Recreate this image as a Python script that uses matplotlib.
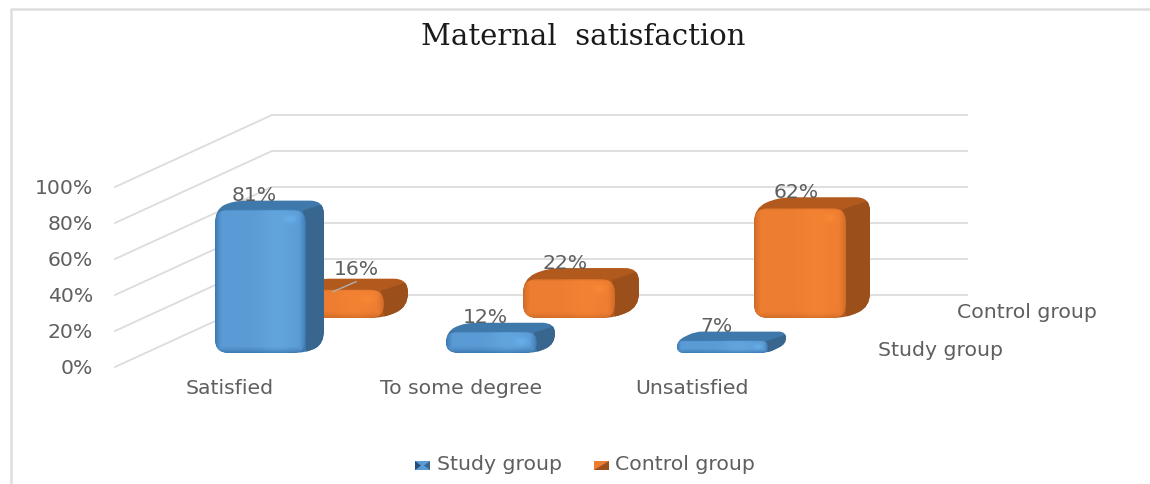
import numpy as np
import matplotlib
matplotlib.use('Agg')
from matplotlib import pyplot as plt
from matplotlib.patches import PathPatch, Polygon
from matplotlib.path import Path

categories = ['Satisfied', 'To some degree', 'Unsatisfied']
series_names = ['Study group', 'Control group']
study = [81, 12, 7]
control = [16, 22, 62]
y_ticks = [0, 20, 40, 60, 80, 100]

# layout of the fake 3d box, in pixels
FLOOR_Y = 367
AXIS_X = 115
WALL_DX = 157
WALL_DY = 72
WALL_END = 967
GRID_SCALE = 1.8
BAR_SCALE = 1.77
BAR_X0 = 215
BAR_Y0 = 353
CAT_STEP = 231
ROW_DX = 77
ROW_DY = 35
# per row: study, control
BAR_W = [91, 92]
DEPTH_DX = [18, 24]
DEPTH_DY = [9, 11]

BLUE = dict(base='#5b9bd5', edge='#3673ab', hi='#68aee5', top='#3f78aa', side='#39668f')
ORANGE = dict(base='#ed7d31', edge='#c96825', hi='#fb8634', top='#b25a1e', side='#9b4f1b')
TXT = '#5f5f5f'
GRID = '#dcdcdc'
LABEL_SIZE = 14.7


def rounded(points, r):
    # closed path with the corners cut by quadratic curves
    pts = np.array(points, dtype=float)
    n = len(pts)
    verts, codes = [], []
    for i in range(n):
        p, prev, nxt = pts[i], pts[i - 1], pts[(i + 1) % n]
        a = p + (prev - p) * min(r / np.linalg.norm(prev - p), 0.5)
        b = p + (nxt - p) * min(r / np.linalg.norm(nxt - p), 0.5)
        verts += [a, p, b]
        codes += [Path.MOVETO if i == 0 else Path.LINETO, Path.CURVE3, Path.CURVE3]
    verts.append(verts[0])
    codes.append(Path.CLOSEPOLY)
    return Path(verts, codes)


def rgb(c):
    return np.array(matplotlib.colors.to_rgb(c))


def front_image(w, h, col, bevel):
    xs = np.arange(int(w)) + 0.5
    ys = np.arange(int(h)) + 0.5
    xx, yy = np.meshgrid(xs, ys)
    # top edge stays lighter than the sides and the bottom
    dist = np.minimum.reduce([xx, w - xx, yy * 3, h - yy])
    t = np.clip(dist / bevel, 0, 1)[..., None] ** 0.7
    img = rgb(col['edge']) * (1 - t) + rgb(col['base']) * t
    # soft lighter band towards the right and a glint near the top corner
    band = np.exp(-((xx - w * 0.68) / (w * 0.18)) ** 2)[..., None] * t
    img = img * (1 - 0.5 * band) + rgb(col['hi']) * 0.5 * band
    glint = np.exp(-(((xx - (w - 2.2 * bevel)) / (0.9 * bevel)) ** 2 + ((yy - 1.4 * bevel) / (0.6 * bevel)) ** 2))[..., None]
    return img * (1 - 0.5 * glint) + (rgb(col['hi']) * 1.08).clip(0, 1) * 0.5 * glint


def draw_bar(ax, cat, row, value, col):
    left = BAR_X0 + cat * CAT_STEP + row * ROW_DX
    bottom = BAR_Y0 - row * ROW_DY
    h = value * BAR_SCALE
    top = bottom - h
    right = left + BAR_W[row]
    ddx, ddy = DEPTH_DX[row], DEPTH_DY[row]
    r = min(14, h * 0.6)

    # silhouette of the whole block, then the darker side
    outline = [(left, bottom), (left, top), (left + ddx, top - ddy),
               (right + ddx, top - ddy), (right + ddx, bottom - ddy), (right, bottom)]
    ax.add_patch(PathPatch(rounded(outline, r), fc=col['top'], ec='none', zorder=3 + 2 * (1 - row)))
    side = [(right - 3, top + 1), (right + ddx, top - ddy + 3),
            (right + ddx, bottom - ddy), (right, bottom)]
    clip = PathPatch(rounded(outline, r), transform=ax.transData)
    sp = Polygon(side, fc=col['side'], ec='none', zorder=3 + 2 * (1 - row))
    ax.add_patch(sp)
    sp.set_clip_path(clip)

    front = PathPatch(rounded([(left, bottom), (left, top), (right, top), (right, bottom)], r),
                      fc='none', ec='none', transform=ax.transData)
    ax.add_patch(front)
    im = ax.imshow(front_image(BAR_W[row], max(h, 2), col, min(max(r * 0.6, 3), 7)),
                   extent=(left, right, bottom, top), zorder=4 + 2 * (1 - row),
                   interpolation='bilinear', aspect='auto')
    im.set_clip_path(front)


fig = plt.figure(figsize=(11.5, 4.84), dpi=100)
ax = fig.add_axes([0, 0, 1, 1])
ax.set_xlim(0, 1150)
ax.set_ylim(484, 0)
ax.axis('off')

# chart frame, only left and top show in the crop
ax.plot([10.5, 10.5, 1150], [484, 8.5, 8.5], color='#dedede', lw=1.8, zorder=0)

# grid on the floor side and back wall
for v in y_ticks:
    y = FLOOR_Y - v * GRID_SCALE
    ax.plot([AXIS_X, AXIS_X + WALL_DX, WALL_END], [y, y - WALL_DY, y - WALL_DY], color=GRID, lw=1.3, zorder=1)
    ax.text(AXIS_X - 22, y + 2, f'{v}%', ha='right', va='center', fontsize=LABEL_SIZE, color=TXT)

for i in range(len(categories)):
    draw_bar(ax, i, 1, control[i], ORANGE)
for i in range(len(categories)):
    draw_bar(ax, i, 0, study[i], BLUE)

# value labels, 16% was dragged off its bar in the original
for i in range(len(categories)):
    lx, ly = BAR_X0 + i * CAT_STEP, BAR_Y0 - study[i] * BAR_SCALE - DEPTH_DY[0]
    ax.text(lx + 39, ly - 5, f'{study[i]}%', ha='center', va='center', fontsize=LABEL_SIZE, color=TXT, zorder=10)
    lx, ly = lx + ROW_DX, BAR_Y0 - ROW_DY - control[i] * BAR_SCALE - DEPTH_DY[1]
    if i == 0:
        ax.text(lx + 64, ly - 9, f'{control[i]}%', ha='center', va='center', fontsize=LABEL_SIZE, color=TXT, zorder=10)
        ax.plot([lx + 41, lx + 64], [ly + 13, ly + 3], color='#b0b0b0', lw=1, zorder=10)
    else:
        ax.text(lx + 42, ly - 5, f'{control[i]}%', ha='center', va='center', fontsize=LABEL_SIZE, color=TXT, zorder=10)

for i, name in enumerate(categories):
    ax.text(BAR_X0 + 15 + i * CAT_STEP, 389, name, ha='center', va='center', fontsize=LABEL_SIZE, color=TXT)

ax.text(878, 351, series_names[0], ha='left', va='center', fontsize=LABEL_SIZE, color=TXT)
ax.text(957, 313, series_names[1], ha='left', va='center', fontsize=LABEL_SIZE, color=TXT)

ax.text(583, 37, 'Maternal  satisfaction', ha='center', va='center', fontsize=21,
        family='DejaVu Serif', color='#1a1a1a')

# legend with the two-tone keys
for kx, tx, name, col, bow in [(415, 437, series_names[0], BLUE, True), (594, 615, series_names[1], ORANGE, False)]:
    ky0, ky1 = 461, 470
    ax.add_patch(Polygon([(kx, ky0), (kx + 15, ky0), (kx + 15, ky1), (kx, ky1)], fc=col['base'], ec='none'))
    if bow:
        ax.add_patch(Polygon([(kx, ky0), (kx + 6, (ky0 + ky1) / 2), (kx, ky1)], fc='#1f4e79', ec='none'))
        ax.add_patch(Polygon([(kx + 15, ky0), (kx + 9, (ky0 + ky1) / 2), (kx + 15, ky1)], fc=col['side'], ec='none'))
    else:
        ax.add_patch(Polygon([(kx, ky1), (kx + 15, ky1), (kx + 15, ky0)], fc=col['side'], ec='none'))
    ax.text(tx, 465, name, ha='left', va='center', fontsize=LABEL_SIZE, color=TXT)

ax.set_xlim(0, 1150)
ax.set_ylim(484, 0)
fig.savefig('out.png', dpi=100)
